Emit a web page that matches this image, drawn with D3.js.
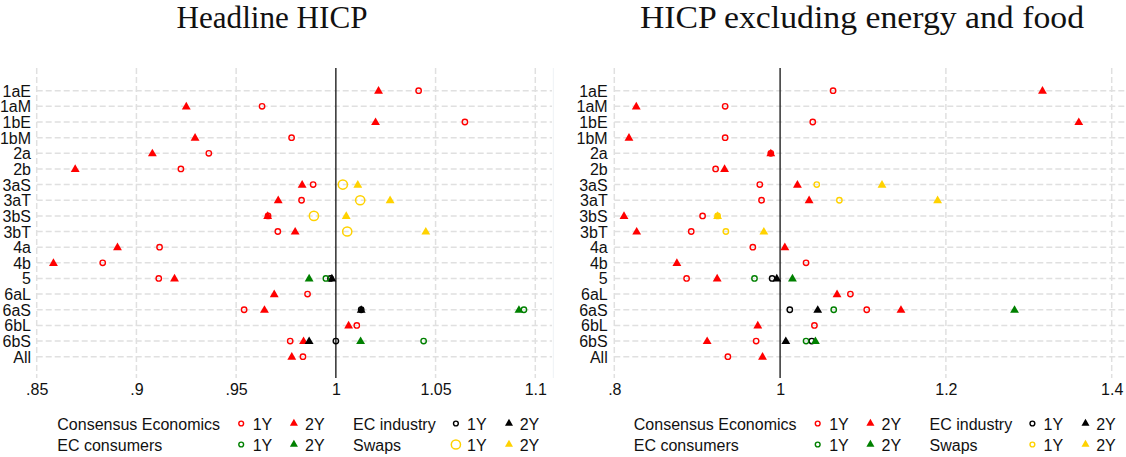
<!DOCTYPE html>
<html>
<head>
<meta charset="utf-8">
<script src="https://cdn.jsdelivr.net/npm/d3@7"></script>
<style>
  html, body { margin: 0; padding: 0; background: #fff; }
  svg { display: block; }
  text { font-family: "Liberation Sans", Arial, sans-serif; fill: #111; }
  .title { font-family: "Liberation Serif", "Times New Roman", serif; }
</style>
</head>
<body>
<svg id="chart" width="1126" height="457"></svg>
<script>
// Row labels (top to bottom)
const categories = ["1aE","1aM","1bE","1bM","2a","2b","3aS","3aT","3bS","3bT","4a","4b","5","6aL","6aS","6bL","6bS","All"];

// Headline HICP
const headCE1Y  = [1.0415,0.963,1.0647,0.9778,0.9363,0.9223,0.9886,0.9828,0.966,0.9709,0.9116,0.8831,0.9112,0.9858,0.954,1.0105,0.9771,0.9835];
const headCE2Y  = [1.0214,0.925,1.0199,0.9294,0.908,0.8693,0.9831,0.9711,0.9658,0.9796,0.8905,0.8584,0.9191,0.9691,0.9642,1.0064,0.9838,0.9779];
const headECI1Y = [null,null,null,null,null,null,null,null,null,null,null,null,0.9973,null,1.0127,null,1.000,null];
const headECI2Y = [null,null,null,null,null,null,null,null,null,null,null,null,0.998,null,1.0127,null,0.9866,null];
const headECC1Y = [null,null,null,null,null,null,null,null,null,null,null,null,0.995,null,1.0943,null,1.044,null];
const headECC2Y = [null,null,null,null,null,null,null,null,null,null,null,null,0.9866,null,1.0918,null,1.0124,null];
const headSW1Y  = [null,null,null,null,null,null,1.0035,1.0122,0.989,1.0057,null,null,null,null,null,null,null,null];
const headSW2Y  = [null,null,null,null,null,null,1.011,1.0272,1.0052,1.0451,null,null,null,null,null,null,null,null];

// HICP excluding energy and food
const coreCE1Y  = [1.0639,0.9337,1.0394,0.9337,0.9888,0.9222,0.9755,0.9776,0.9065,0.8928,0.9671,1.0313,0.8872,1.0848,1.1045,1.0414,0.9711,0.937];
const coreCE2Y  = [1.3165,0.8265,1.3603,0.8177,0.9888,0.933,1.0209,1.035,0.8117,0.827,1.0057,0.8755,0.9241,1.0687,1.1458,0.9731,0.912,0.9788];
const coreECI1Y = [null,null,null,null,null,null,null,null,null,null,null,null,0.9904,null,1.0117,null,1.0382,null];
const coreECI2Y = [null,null,null,null,null,null,null,null,null,null,null,null,0.996,null,1.0454,null,1.0069,null];
const coreECC1Y = [null,null,null,null,null,null,null,null,null,null,null,null,0.9691,null,1.0647,null,1.0313,null];
const coreECC2Y = [null,null,null,null,null,null,null,null,null,null,null,null,1.0149,null,1.2828,null,1.0426,null];
const coreSW1Y  = [null,null,null,null,null,null,1.0442,1.0715,0.9246,0.9346,null,null,null,null,null,null,null,null];
const coreSW2Y  = [null,null,null,null,null,null,1.1229,1.19,0.9246,0.9804,null,null,null,null,null,null,null,null];

// Axis ticks
const headTicks = [0.85, 0.9, 0.95, 1, 1.05, 1.1];
const headTickLabels = [".85", ".9", ".95", "1", "1.05", "1.1"];
const coreTicks = [0.8, 1, 1.2, 1.4];
const coreTickLabels = [".8", "1", "1.2", "1.4"];

// Titles and legend
const titles = ["Headline HICP", "HICP excluding energy and food"];
const sourceNames = ["Consensus Economics", "EC industry", "EC consumers", "Swaps"];
const horizonNames = ["1Y", "2Y"];

const COLORS = { ce: "#ff0000", eci: "#000000", ecc: "#008000", sw: "#ffd200" };

const svg = d3.select("#chart");

const rowY = d3.scalePoint().domain(categories).range([90.7, 356.7]);
const plotTop = 68, plotBottom = 378;

const panels = [
  {
    title: titles[0], titleX: 272, titleLen: 191,
    domain: [0.85, 1.1], range: [36.7, 535.3],
    gridLeft: 36.7, gridRight: 552,
    labelRight: 31, ticks: headTicks, tickLabels: headTickLabels,
    legendX: 57.3, bigSwapCircle: true,
    series: [
      { v: headCE1Y,  c: COLORS.ce,  shape: "circle" },
      { v: headCE2Y,  c: COLORS.ce,  shape: "tri" },
      { v: headECI1Y, c: COLORS.eci, shape: "circle" },
      { v: headECI2Y, c: COLORS.eci, shape: "tri" },
      { v: headECC1Y, c: COLORS.ecc, shape: "circle" },
      { v: headECC2Y, c: COLORS.ecc, shape: "tri" },
      { v: headSW1Y,  c: COLORS.sw,  shape: "bigcircle" },
      { v: headSW2Y,  c: COLORS.sw,  shape: "tri" }
    ]
  },
  {
    title: titles[1], titleX: 862, titleLen: 444,
    domain: [0.8, 1.4], range: [614.3, 1111.7],
    gridLeft: 614.3, gridRight: 1126,
    labelRight: 607.7, ticks: coreTicks, tickLabels: coreTickLabels,
    legendX: 633.8, bigSwapCircle: false,
    series: [
      { v: coreCE1Y,  c: COLORS.ce,  shape: "circle" },
      { v: coreCE2Y,  c: COLORS.ce,  shape: "tri" },
      { v: coreECI1Y, c: COLORS.eci, shape: "circle" },
      { v: coreECI2Y, c: COLORS.eci, shape: "tri" },
      { v: coreECC1Y, c: COLORS.ecc, shape: "circle" },
      { v: coreECC2Y, c: COLORS.ecc, shape: "tri" },
      { v: coreSW1Y,  c: COLORS.sw,  shape: "circle" },
      { v: coreSW2Y,  c: COLORS.sw,  shape: "tri" }
    ]
  }
];

const triPath = d3.symbol().type(d3.symbolTriangle).size(34)();
const triPathLegend = d3.symbol().type(d3.symbolTriangle).size(28)();

function drawMarker(g, shape, color, cx, cy, legend) {
  if (shape === "tri") {
    g.append("path")
      .attr("d", legend ? triPathLegend : triPath)
      .attr("transform", `translate(${cx},${cy + 0.5})`)
      .attr("fill", color);
  } else {
    const big = shape === "bigcircle";
    g.append("circle")
      .attr("cx", cx).attr("cy", cy)
      .attr("r", big ? 4.6 : (legend ? 2.4 : 2.7))
      .attr("fill", "none")
      .attr("stroke", color)
      .attr("stroke-width", big ? 1.5 : 1.4);
  }
}

panels.forEach(p => {
  const x = d3.scaleLinear().domain(p.domain).range(p.range);
  const g = svg.append("g");

  // title
  g.append("text").attr("class", "title")
    .attr("x", p.titleX).attr("y", 28)
    .attr("text-anchor", "middle")
    .attr("textLength", p.titleLen)
    .attr("lengthAdjust", "spacingAndGlyphs")
    .style("font-size", "31px")
    .text(p.title);

  // horizontal grid lines
  g.selectAll("line.hgrid").data(categories).join("line")
    .attr("x1", p.gridLeft).attr("x2", p.gridRight)
    .attr("y1", d => rowY(d)).attr("y2", d => rowY(d))
    .attr("stroke", "#e0e0e0").attr("stroke-width", 1.5)
    .attr("stroke-dasharray", "6,3");

  // vertical grid lines (except reference at 1)
  g.selectAll("line.vgrid").data(p.ticks.filter(t => t !== 1)).join("line")
    .attr("x1", d => x(d)).attr("x2", d => x(d))
    .attr("y1", plotTop).attr("y2", plotBottom)
    .attr("stroke", "#e0e0e0").attr("stroke-width", 1.5)
    .attr("stroke-dasharray", "6,3");

  // reference line at 1
  g.append("line")
    .attr("x1", x(1)).attr("x2", x(1))
    .attr("y1", plotTop).attr("y2", plotBottom)
    .attr("stroke", "#222").attr("stroke-width", 1.4);

  // y labels
  g.selectAll("text.ylab").data(categories).join("text")
    .attr("x", p.labelRight).attr("y", d => rowY(d) + 6)
    .attr("text-anchor", "end")
    .style("font-size", "16px")
    .text(d => d);

  // x axis labels
  const axis = d3.axisBottom(x)
    .tickValues(p.ticks)
    .tickFormat((d, i) => p.tickLabels[i])
    .tickSize(0).tickPadding(0);
  const ax = g.append("g").attr("transform", `translate(0,${plotBottom})`).call(axis);
  ax.select(".domain").remove();
  ax.selectAll("text")
    .attr("y", 16.5).attr("dy", null)
    .style("font-size", "16px")
    .style("font-family", "'Liberation Sans', Arial, sans-serif")
    .attr("fill", "#111");

  // markers
  p.series.forEach(s => {
    const mg = g.append("g");
    s.v.forEach((val, i) => {
      if (val == null) return;
      drawMarker(mg, s.shape, s.c, x(val), rowY(categories[i]), false);
    });
  });

  // legend: two rows, two columns (source name, 1Y key, 2Y key)
  const lg = g.append("g");
  const rows = [
    [ { name: sourceNames[0], c: COLORS.ce, c1: "circle" }, { name: sourceNames[1], c: COLORS.eci, c1: "circle" } ],
    [ { name: sourceNames[2], c: COLORS.ecc, c1: "circle" }, { name: sourceNames[3], c: COLORS.sw, c1: p.bigSwapCircle ? "bigcircle" : "circle" } ]
  ];
  const rowCY = [423.5, 444.5];
  const cols = [
    { name: 0,     k1: 183.9, t1: 195.4, k2: 236.6, t2: 247.7 },
    { name: 295.7, k1: 398.6, t1: 409.7, k2: 451.7, t2: 462.4 }
  ];
  rows.forEach((row, ri) => {
    row.forEach((item, ci) => {
      const col = cols[ci];
      const bx = p.legendX;
      const cy = rowCY[ri];
      lg.append("text").attr("x", bx + col.name).attr("y", cy + 6)
        .style("font-size", "16px").text(item.name);
      drawMarker(lg, item.c1, item.c, bx + col.k1, cy, true);
      lg.append("text").attr("x", bx + col.t1).attr("y", cy + 6)
        .style("font-size", "16px").text(horizonNames[0]);
      drawMarker(lg, "tri", item.c, bx + col.k2, cy - 0.5, true);
      lg.append("text").attr("x", bx + col.t2).attr("y", cy + 6)
        .style("font-size", "16px").text(horizonNames[1]);
    });
  });
});

// faint border at the right edge of the first plot region
svg.append("line")
  .attr("x1", 553.3).attr("x2", 553.3).attr("y1", plotTop).attr("y2", plotBottom)
  .attr("stroke", "#eef2f6").attr("stroke-width", 1);
</script>
</body>
</html>
